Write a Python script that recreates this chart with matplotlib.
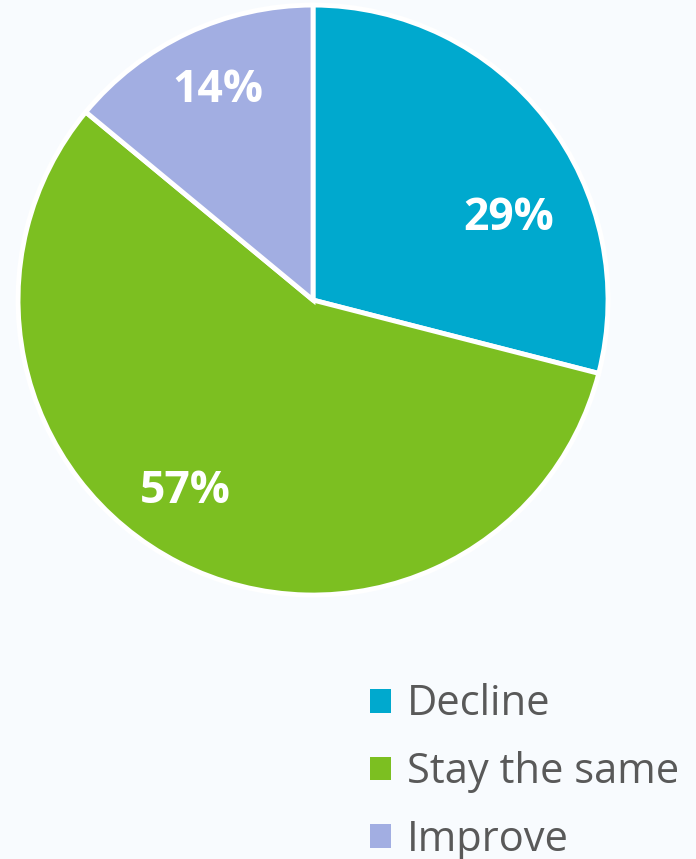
import numpy as np
import matplotlib.pyplot as plt
from matplotlib.patches import Patch

# dados
categorias = ['Decline', 'Stay the same', 'Improve']
valores = [29, 57, 14]
cores = ['#00A9CE', '#7CBF21', '#A2AEE2']

# posicao dos rotulos (angulo em graus, fracao do raio)
rot_ang = [22.6, 236.3, 114.3]
rot_r = [0.72, 0.78, 0.78]

fundo = '#F8FBFE'
fig = plt.figure(figsize=(6.96, 8.59), dpi=100, facecolor=fundo)
ax = fig.add_axes([0.0259, 0.3073, 0.8477, 0.6868])
ax.set_facecolor(fundo)

wedges, _ = ax.pie(valores, colors=cores, startangle=90, counterclock=False,
                   wedgeprops=dict(edgecolor='white', linewidth=3.5))
ax.set_aspect('equal')
ax.set_xlim(-1.0, 1.0)
ax.set_ylim(-1.0, 1.0)

for v, a, r in zip(valores, rot_ang, rot_r):
    ax.text(r * np.cos(np.radians(a)), r * np.sin(np.radians(a)), f'{v}%',
            ha='center', va='center', color='white', fontsize=32,
            fontweight='bold', family='Open Sans')

handles = [Patch(facecolor=c, edgecolor='none') for c in cores]
leg = fig.legend(handles, categorias, loc='upper left', bbox_to_anchor=(0.478, 0.248),
                 frameon=False, handlelength=0.5, handleheight=0.5, handletextpad=0.38,
                 labelspacing=0.62, prop={'family': 'Open Sans', 'size': 30})
for t in leg.get_texts():
    t.set_color('#595959')

fig.savefig('out.png', dpi=100, facecolor=fundo)
